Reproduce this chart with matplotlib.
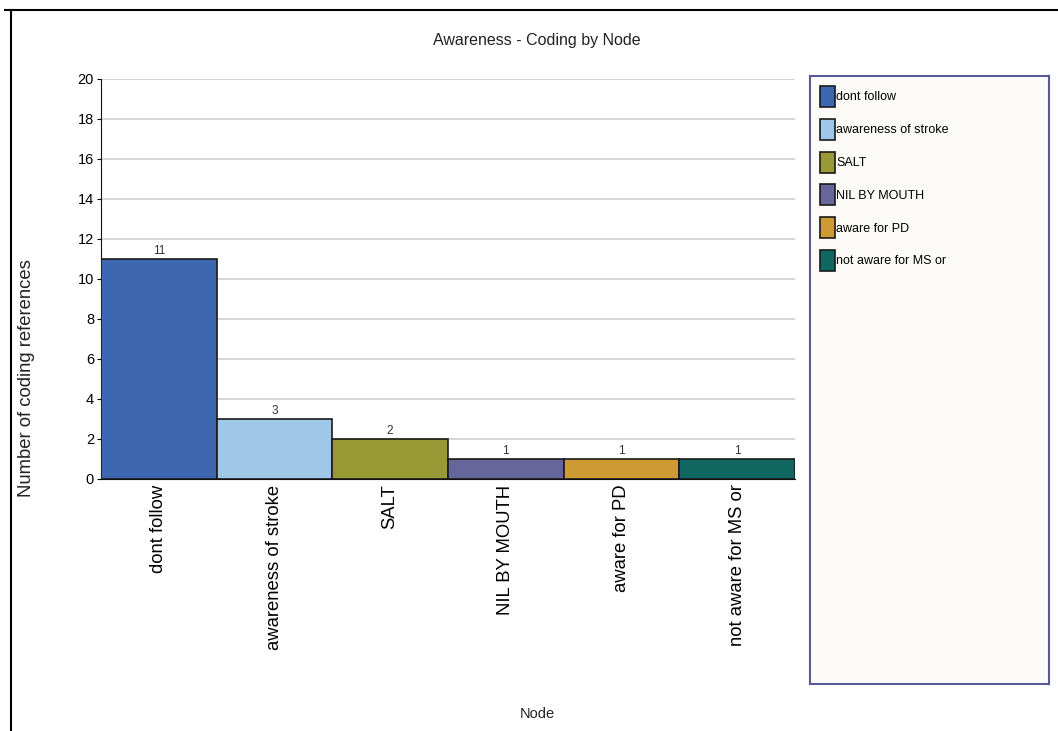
import matplotlib
matplotlib.use('Agg')
import matplotlib.pyplot as plt
from matplotlib.lines import Line2D

plt.rcParams['font.family'] = ['Liberation Sans', 'DejaVu Sans']

nodes = ['dont follow', 'awareness of stroke', 'SALT', 'NIL BY MOUTH',
         'aware for PD', 'not aware for MS or']
counts = [11, 3, 2, 1, 1, 1]
colors = ['#3D67B0', '#9FC8E8', '#999A35', '#66669A', '#CD9B33', '#106660']
yticks = [0, 2, 4, 6, 8, 10, 12, 14, 16, 18, 20]

W, H = 1058, 731
fig = plt.figure(figsize=(W / 100, H / 100), dpi=100)

# main plot area
ax = fig.add_axes([101 / W, 1 - 479 / H, (795 - 101) / W, (479 - 79) / H])
x = list(range(len(nodes)))
bars = ax.bar(x, counts, width=1.0, color=colors, edgecolor='#1a1a1a',
              linewidth=1.2, zorder=3)
for xi, v in zip(x, counts):
    ax.text(xi, v + 0.12, str(v), ha='center', va='bottom', fontsize=8.5,
            color='#333333')

ax.set_xlim(-0.5, len(nodes) - 0.5)
ax.set_ylim(0, 20)
ax.set_yticks(yticks)
ax.set_xticks(x)
ax.set_xticklabels(nodes, rotation=90, fontsize=13.3, va='top')
ax.tick_params(axis='x', length=0, pad=4)
ax.tick_params(axis='y', length=3, labelsize=10.5, pad=2)
ax.grid(axis='y', color='#D0D0D0', linewidth=1.2, zorder=0)
for s in ['top', 'right']:
    ax.spines[s].set_visible(False)
ax.spines['left'].set_color('#111111')
ax.spines['bottom'].set_color('#111111')

fig.text(537 / W, 1 - 40 / H, 'Awareness - Coding by Node', ha='center',
         va='center', fontsize=11.5, color='#222222')
fig.text(537 / W, 1 - 714 / H, 'Node', ha='center', va='center',
         fontsize=10.5, color='#222222')
fig.text(27 / W, 1 - 378 / H, 'Number of coding references', ha='center',
         va='center', rotation=90, fontsize=13.3, color='#222222')

# legend box
lax = fig.add_axes([810 / W, 1 - 684 / H, (1049 - 810) / W, (684 - 76) / H])
lax.set_facecolor('#FCFBF7')
lax.set_xticks([])
lax.set_yticks([])
for s in lax.spines.values():
    s.set_color('#5A5A9A')
    s.set_linewidth(1.5)
lax.legend(bars.patches, nodes, loc='upper left', frameon=False, fontsize=9,
           handlelength=1.2, handleheight=2.2, handletextpad=0.1,
           labelspacing=0.95, borderaxespad=0.2, borderpad=0.6)

# outer frame lines
fig.add_artist(Line2D([11 / W, 11 / W], [0, 1 - 10 / H], color='black',
                      linewidth=1.5))
fig.add_artist(Line2D([5 / W, 1], [1 - 10 / H, 1 - 10 / H], color='black',
                      linewidth=1.5))

fig.savefig('out.png', dpi=100)
